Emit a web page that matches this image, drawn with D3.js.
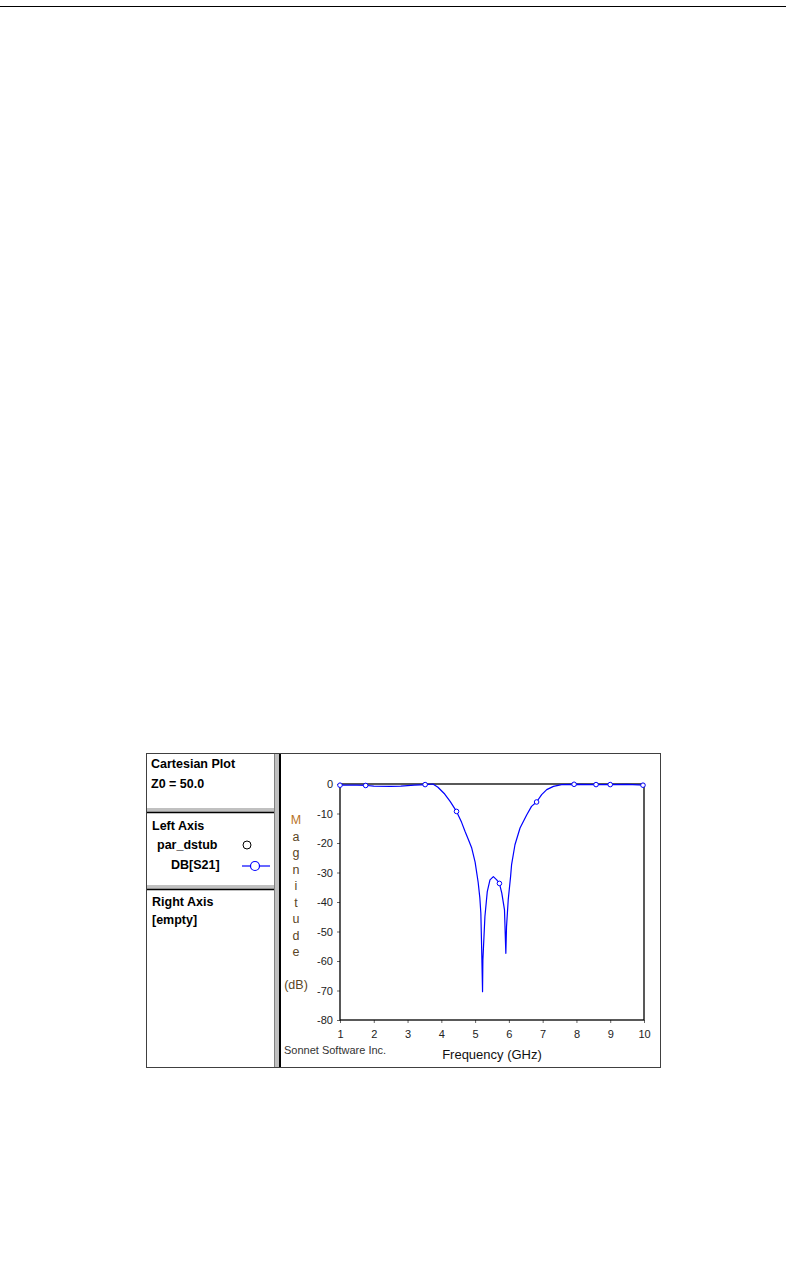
<!DOCTYPE html>
<html>
<head>
<meta charset="utf-8">
<script src="https://cdn.jsdelivr.net/npm/d3@7/dist/d3.min.js"></script>
<style>
  html, body { margin: 0; padding: 0; background: #fff; }
  svg { display: block; }
  text { font-family: "Liberation Sans", Arial, sans-serif; }
</style>
</head>
<body>
<svg id="chart" width="793" height="1269"></svg>
<script>
// ---- Data ----
const freqGHz = [1.0, 1.5, 1.8, 2.0, 2.5, 2.8, 3.2, 3.55, 3.75, 3.9, 4.1, 4.26, 4.45, 4.6, 4.7, 4.8, 4.9, 5.0, 5.09, 5.14, 5.17, 5.2, 5.22, 5.23, 5.29, 5.36, 5.44, 5.54, 5.64, 5.72, 5.79, 5.87, 5.9, 5.91, 5.93, 5.98, 6.05, 6.08, 6.18, 6.33, 6.53, 6.67, 6.82, 6.97, 7.12, 7.32, 7.56, 8.0, 8.55, 9.0, 9.5, 10.0];
const dbS21 = [-0.4, -0.4, -0.5, -0.7, -0.8, -0.7, -0.4, -0.2, 0.0, -1.1, -3.4, -5.9, -9.3, -13.0, -16.0, -18.8, -21.7, -26.5, -33.3, -38.6, -43.8, -59.0, -70.4, -59.7, -45.0, -36.5, -32.5, -31.4, -32.5, -33.7, -37.0, -42.7, -54.0, -57.4, -48.4, -39.3, -31.4, -27.3, -20.6, -14.9, -10.4, -7.6, -6.1, -3.6, -1.9, -0.8, -0.2, -0.1, -0.2, -0.2, -0.1, -0.4];
const markerFreq = [1.0, 1.76, 3.52, 4.45, 5.72, 6.82, 7.93, 8.58, 9.0, 9.97];
const markerDb = [-0.4, -0.5, -0.2, -9.3, -33.7, -6.1, -0.1, -0.2, -0.2, -0.4];
const xTicks = [1, 2, 3, 4, 5, 6, 7, 8, 9, 10];
const yTicks = [0, -10, -20, -30, -40, -50, -60, -70, -80];
const yLabelLetters = ["M", "a", "g", "n", "i", "t", "u", "d", "e"];
const panelLines = [
  { text: "Cartesian Plot", x: 151, y: 764 },
  { text: "Z0 = 50.0", x: 151, y: 784 },
  { text: "Left Axis", x: 152, y: 826 },
  { text: "par_dstub", x: 157, y: 845 },
  { text: "DB[S21]", x: 171, y: 865 },
  { text: "Right Axis", x: 152, y: 902 },
  { text: "[empty]", x: 152, y: 920 }
];

const svg = d3.select("#chart");

// top page rule
svg.append("line").attr("x1", 0).attr("x2", 786).attr("y1", 6.5).attr("y2", 6.5)
  .attr("stroke", "#000").attr("stroke-width", 1);

// outer frame
svg.append("rect").attr("x", 146.5).attr("y", 753.5).attr("width", 514).attr("height", 314)
  .attr("fill", "#fff").attr("stroke", "#404040").attr("stroke-width", 1);

// vertical divider (gray band + black line)
svg.append("rect").attr("x", 274).attr("y", 754).attr("width", 5).attr("height", 313).attr("fill", "#c0c0c0");
svg.append("line").attr("x1", 274.5).attr("x2", 274.5).attr("y1", 754).attr("y2", 1067).attr("stroke", "#808080");
svg.append("line").attr("x1", 280).attr("x2", 280).attr("y1", 754).attr("y2", 1067).attr("stroke", "#000").attr("stroke-width", 2);

// horizontal dividers in left panel
[808, 885].forEach(y0 => {
  svg.append("rect").attr("x", 147).attr("y", y0).attr("width", 127).attr("height", 4).attr("fill", "#c0c0c0");
  svg.append("line").attr("x1", 147).attr("x2", 274).attr("y1", y0 + 4.5).attr("y2", y0 + 4.5)
    .attr("stroke", "#000").attr("stroke-width", 1.5);
});

// left panel texts
svg.selectAll("text.panel").data(panelLines).join("text")
  .attr("class", "panel")
  .attr("x", d => d.x).attr("y", d => d.y)
  .attr("dominant-baseline", "central")
  .attr("font-size", 12.5).attr("font-weight", "bold").attr("fill", "#000")
  .text(d => d.text);

// legend symbols
svg.append("circle").attr("cx", 247).attr("cy", 845).attr("r", 4)
  .attr("fill", "#fff").attr("stroke", "#000").attr("stroke-width", 1);
svg.append("line").attr("x1", 242).attr("x2", 270).attr("y1", 866).attr("y2", 866)
  .attr("stroke", "#0000ff").attr("stroke-width", 1.2);
svg.append("circle").attr("cx", 255).attr("cy", 866).attr("r", 4.5)
  .attr("fill", "#fff").attr("stroke", "#0000ff").attr("stroke-width", 1.2);

// ---- plot area ----
const x = d3.scaleLinear().domain([1, 10]).range([340, 644]);
const y = d3.scaleLinear().domain([-80, 0]).range([1020, 784]);

const gx = svg.append("g").attr("transform", "translate(0,1020)")
  .call(d3.axisBottom(x).tickValues(xTicks).tickSize(3).tickPadding(7).tickFormat(d3.format("d")));
const gy = svg.append("g").attr("transform", "translate(340,0)")
  .call(d3.axisLeft(y).tickValues(yTicks).tickSize(3).tickPadding(4).tickFormat(d => d3.format("d")(d).replace("−", "-")));
[gx, gy].forEach(g => {
  g.select(".domain").remove();
  g.selectAll("text").attr("font-family", "Liberation Sans, Arial, sans-serif").attr("font-size", 11).attr("fill", "#222");
  g.selectAll("line").attr("stroke", "#666");
});

// plot box
svg.append("rect").attr("x", x(1)).attr("y", y(0)).attr("width", x(10) - x(1)).attr("height", y(-80) - y(0))
  .attr("fill", "none").attr("stroke", "#000").attr("stroke-width", 1.3);

// curve
const pts = freqGHz.map((f, i) => [f, dbS21[i]]);
svg.append("path").datum(pts)
  .attr("d", d3.line().x(d => x(d[0])).y(d => y(d[1])))
  .attr("fill", "none").attr("stroke", "#0000ff").attr("stroke-width", 1.2).attr("stroke-linejoin", "round");

// markers
svg.selectAll("circle.mk").data(markerFreq.map((f, i) => [f, markerDb[i]])).join("circle")
  .attr("class", "mk")
  .attr("cx", d => x(d[0])).attr("cy", d => y(d[1])).attr("r", 2.3)
  .attr("fill", "#fff").attr("stroke", "#0000ff").attr("stroke-width", 1);

// y label (vertical letters)
svg.selectAll("text.ylab").data(yLabelLetters).join("text")
  .attr("class", "ylab")
  .attr("x", 296).attr("y", (d, i) => 820 + i * 16.5)
  .attr("text-anchor", "middle").attr("dominant-baseline", "central")
  .attr("font-size", 12.5)
  .attr("fill", (d, i) => i === 0 ? "#b8731f" : "#5a4524")
  .text(d => d);
svg.append("text").attr("x", 296).attr("y", 985)
  .attr("text-anchor", "middle").attr("dominant-baseline", "central")
  .attr("font-size", 12.5).attr("fill", "#5a4524").text("(dB)");

// x label
svg.append("text").attr("x", 492).attr("y", 1054)
  .attr("text-anchor", "middle").attr("dominant-baseline", "central")
  .attr("font-size", 13).attr("fill", "#111").text("Frequency (GHz)");

// credit
svg.append("text").attr("x", 284).attr("y", 1050)
  .attr("dominant-baseline", "central")
  .attr("font-size", 11).attr("fill", "#333").text("Sonnet Software Inc.");
</script>
</body>
</html>
